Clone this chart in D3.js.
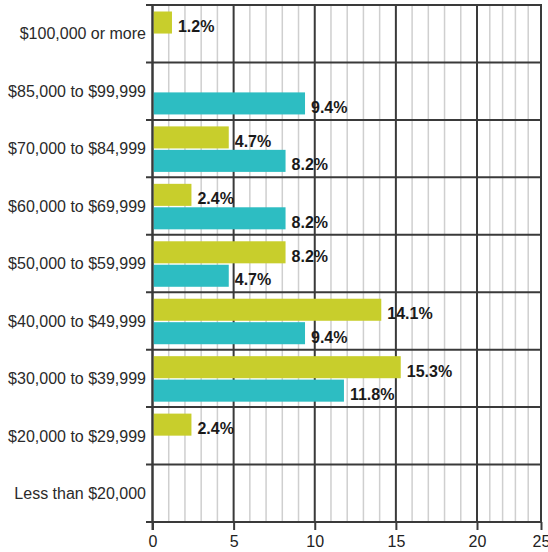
<!DOCTYPE html>
<html>
<head>
<meta charset="utf-8">
<script src="https://cdn.jsdelivr.net/npm/d3@7"></script>
<style>
  html, body { margin: 0; padding: 0; background: #fff; }
  svg { display: block; font-family: "Liberation Sans", Arial, sans-serif; }
</style>
</head>
<body>
<div id="chart"></div>
<script>
// income brackets, top to bottom
var categories = [
    "$100,000 or more",
    "$85,000 to $99,999",
    "$70,000 to $84,999",
    "$60,000 to $69,999",
    "$50,000 to $59,999",
    "$40,000 to $49,999",
    "$30,000 to $39,999",
    "$20,000 to $29,999",
    "Less than $20,000"
];
var seriesNames = ["yellow", "teal"];
var yellowValues = [1.2, null, 4.7, 2.4, 8.2, 14.1, 15.3, 2.4, null];
var tealValues = [null, 9.4, 8.2, 8.2, 4.7, 9.4, 11.8, null, null];
var majorTicks = [0, 5, 10, 15, 20, 25];
var minorTicks = d3.range(0, 26);

var w = 548, h = 552;
var colors = { yellow: "#c8ce2c", teal: "#2dbdc2" };

var svg = d3.select("#chart")
    .append("svg")
    .attr("width", w)
    .attr("height", h);

// the last 5 units are squeezed in the original picture
var x = d3.scaleLinear().domain([0, 20, 25]).range([152.5, 477, 541]);
var y = d3.scaleBand().domain(categories).range([5, 522]);
var inner = d3.scaleBand().domain(seriesNames).range([6.5, 52]).paddingInner(0.06);

var rows = categories.map(function (c, i) {
    return { cat: c, yellow: yellowValues[i], teal: tealValues[i] };
});

// minor grid
svg.append("g")
    .selectAll("line")
    .data(minorTicks.filter(function (d) { return d % 5 !== 0; }))
    .join("line")
    .attr("x1", function (d) { return x(d); })
    .attr("x2", function (d) { return x(d); })
    .attr("y1", 5)
    .attr("y2", 522)
    .attr("stroke", "#cfcfcf")
    .attr("stroke-width", 1.5);

// major grid
svg.append("g")
    .selectAll("line")
    .data(majorTicks)
    .join("line")
    .attr("x1", function (d) { return x(d); })
    .attr("x2", function (d) { return x(d); })
    .attr("y1", 5)
    .attr("y2", 522)
    .attr("stroke", "#3a3a3a")
    .attr("stroke-width", 2);

// bars
var bars = [];
rows.forEach(function (r) {
    seriesNames.forEach(function (s) {
        if (r[s] != null) bars.push({ cat: r.cat, series: s, value: r[s] });
    });
});

svg.append("g")
    .selectAll("rect")
    .data(bars)
    .join("rect")
    .attr("x", x(0) + 1)
    .attr("y", function (d) { return y(d.cat) + inner(d.series); })
    .attr("width", function (d) { return x(d.value) - x(0) - 1; })
    .attr("height", inner.bandwidth())
    .attr("fill", function (d) { return colors[d.series]; });

// band boundaries
var edges = categories.map(function (c) { return y(c); }).concat([y.range()[1]]);
svg.append("g")
    .selectAll("line")
    .data(edges)
    .join("line")
    .attr("x1", 146)
    .attr("x2", x(25) + 1)
    .attr("y1", function (d) { return d; })
    .attr("y2", function (d) { return d; })
    .attr("stroke", "#3a3a3a")
    .attr("stroke-width", 2);

// x axis ticks + labels
var xAxis = svg.append("g")
    .attr("transform", "translate(0,522)")
    .call(d3.axisBottom(x).tickValues(majorTicks).tickSize(8).tickPadding(6));
xAxis.select(".domain").remove();
xAxis.selectAll(".tick line").attr("stroke", "#3a3a3a").attr("stroke-width", 2);
xAxis.selectAll(".tick text")
    .attr("fill", "#222")
    .style("font-size", "16px")
    .style("font-family", "'Liberation Sans', Arial, sans-serif");

// y axis line
svg.append("line")
    .attr("x1", x(0))
    .attr("x2", x(0))
    .attr("y1", 4)
    .attr("y2", 530)
    .attr("stroke", "#3a3a3a")
    .attr("stroke-width", 2);

// category labels
svg.append("g")
    .selectAll("text")
    .data(categories)
    .join("text")
    .attr("x", 146)
    .attr("y", function (d) { return y(d) + y.bandwidth() / 2; })
    .attr("dy", "0.36em")
    .attr("text-anchor", "end")
    .attr("fill", "#2a2a2a")
    .style("font-size", "16px")
    .text(function (d) { return d; });

// value labels
svg.append("g")
    .selectAll("text")
    .data(bars)
    .join("text")
    .attr("x", function (d) { return x(d.value) + 6; })
    .attr("y", function (d) { return y(d.cat) + inner(d.series) + inner.bandwidth() - 1.5; })
    .attr("fill", "#1a1a1a")
    .style("font-size", "16px")
    .style("font-weight", "bold")
    .text(function (d) { return d.value.toFixed(1) + "%"; });
</script>
</body>
</html>
